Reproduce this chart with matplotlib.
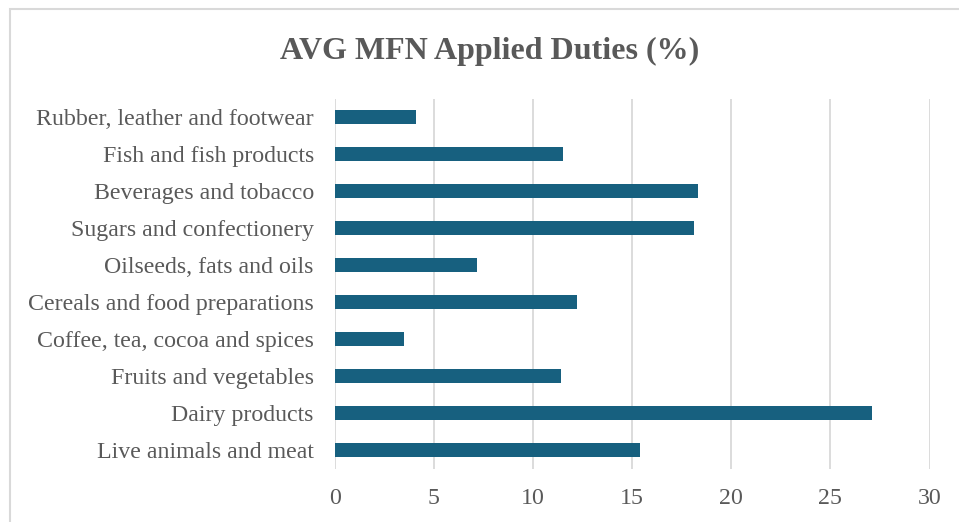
import matplotlib
matplotlib.use("Agg")
import matplotlib.pyplot as plt
from matplotlib.patches import Rectangle

categories = [
    "Live animals and meat",
    "Dairy products",
    "Fruits and vegetables",
    "Coffee, tea, cocoa and spices",
    "Cereals and food preparations",
    "Oilseeds, fats and oils",
    "Sugars and confectionery",
    "Beverages and tobacco",
    "Fish and fish products",
    "Rubber, leather and footwear",
]
values = [15.4, 27.1, 11.4, 3.5, 12.2, 7.2, 18.1, 18.3, 11.5, 4.1]
xticks = [0, 5, 10, 15, 20, 25, 30]
title = "AVG MFN Applied Duties (%)"

W, H = 959, 522
fig = plt.figure(figsize=(W / 100, H / 100), dpi=100)
fig.patch.set_facecolor("white")

# outer chart border (cropped at right/bottom)
fig.patches.append(Rectangle((9.5 / W, -0.1), 1.2, (H - 8.5) / H + 0.1,
                             transform=fig.transFigure, fill=False,
                             edgecolor="#d9d9d9", linewidth=1.5))

left, right = 334.7 / W, 929.5 / W
top, bottom = 1 - 98.5 / H, 1 - 468.5 / H
ax = fig.add_axes([left, bottom, right - left, top - bottom])

ypos = list(range(len(categories)))
ax.barh(ypos, values, height=0.38, color="#17607f", zorder=3)
ax.set_xlim(0, 30)
ax.set_ylim(-0.5, len(categories) - 0.5)
ax.set_xticks(xticks)
ax.set_xticklabels([str(t) for t in xticks])
ax.set_yticks(ypos)
ax.set_yticklabels(categories)

ax.grid(axis="x", color="#d9d9d9", linewidth=1.3, zorder=0)
for s in ax.spines.values():
    s.set_visible(False)
ax.tick_params(axis="both", length=0, labelcolor="#595959", labelsize=17.2)
ax.tick_params(axis="y", pad=15)
ax.tick_params(axis="x", pad=14)
for lbl in ax.get_xticklabels() + ax.get_yticklabels():
    lbl.set_family("Liberation Serif")

fig.text(0.511, 1 - 51 / H, title, ha="center", va="center",
         fontsize=23, fontweight="bold", color="#595959",
         family="Liberation Serif")

fig.savefig("out.png", dpi=100)
